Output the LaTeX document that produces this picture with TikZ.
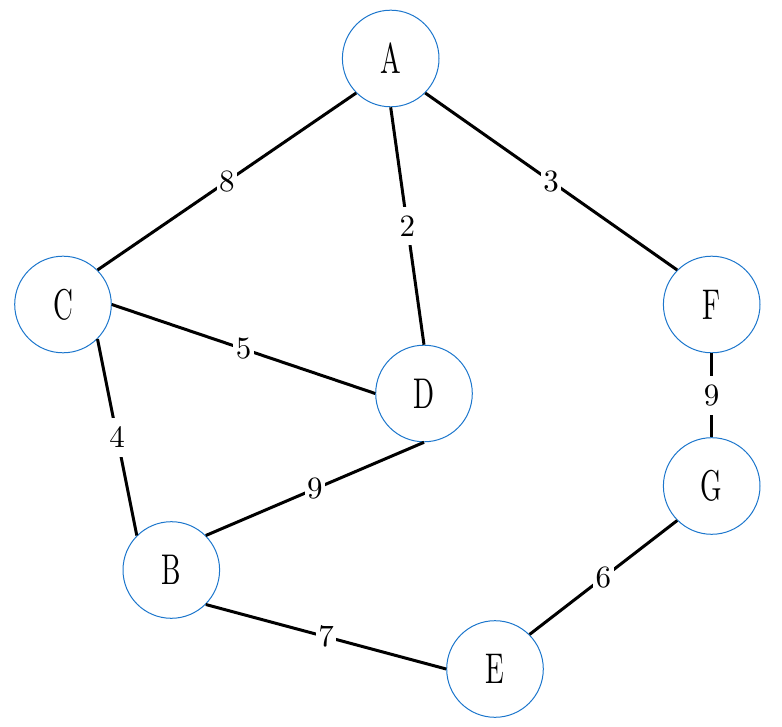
\documentclass[tikz,border=0pt]{standalone}
\usepackage{fontspec}
\newfontfamily\narrowserif[FakeStretch=0.64]{lmroman10-regular.otf}
\newfontfamily\labelserif{lmroman10-regular.otf}
\definecolor{nodeblue}{RGB}{28,118,204}
\begin{document}
\begin{tikzpicture}[x=1pt,y=-1pt,
  vertex/.style={circle,draw=nodeblue,line width=1pt,minimum size=96.6pt,inner sep=0pt,
    font=\narrowserif\fontsize{43}{43}\selectfont},
  edge/.style={line width=3pt,black},
  wlabel/.style={fill=white,inner xsep=2.5pt,inner ysep=9pt,font=\labelserif\fontsize{31}{31}\selectfont}]
\useasboundingbox (0,0) rectangle (782,727);
\node[vertex] (A) at (390.7,58.5) {A};
\node[vertex] (C) at (63,304.5) {C};
\node[vertex] (F) at (711.7,304.5) {F};
\node[vertex] (D) at (424,393.5) {D};
\node[vertex] (G) at (711.7,486) {G};
\node[vertex] (B) at (171.3,570) {B};
\node[vertex] (E) at (495,669) {E};
\draw[edge] (A.south west) -- node[wlabel] {8} (C.north east);
\draw[edge] (A.south) -- node[wlabel] {2} (D.north);
\draw[edge] (A.south east) -- node[wlabel] {3} (F.north west);
\draw[edge] (C.east) -- node[wlabel] {5} (D.west);
\draw[edge] (C.south east) -- node[wlabel] {4} (B.north west);
\draw[edge] (D.south) -- node[wlabel] {9} (B.north east);
\draw[edge] (F.south) -- node[wlabel] {9} (G.north);
\draw[edge] (G.south west) -- node[wlabel] {6} (E.north east);
\draw[edge] (B.south east) -- node[wlabel] {7} (E.west);
\end{tikzpicture}
\end{document}
